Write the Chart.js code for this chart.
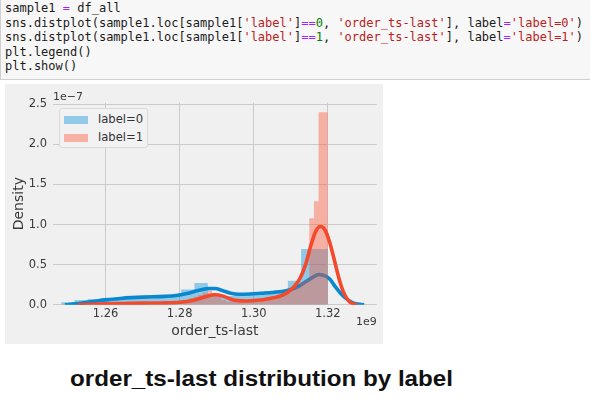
<!DOCTYPE html>
<html>
<head>
<meta charset="utf-8">
<script src="https://cdn.jsdelivr.net/npm/chart.js@4/dist/chart.umd.min.js"></script>
<style>
html,body{margin:0;padding:0;background:#fff;}
#page{position:relative;width:590px;height:399px;overflow:hidden;background:#fff;}
#code{position:absolute;left:0;top:-1px;width:600px;height:81px;background:#f7f7f7;border:1px solid #cfcfcf;box-sizing:border-box;}
#code pre{margin:0;position:absolute;left:4px;top:1px;font-family:"DejaVu Sans Mono",monospace;font-size:12px;line-height:14.6px;color:#1a1a1a;white-space:pre;}
.o{color:#aa22ff}.s{color:#ba2121}.n{color:#008000}
#fig{position:absolute;left:5px;top:84px;width:378px;height:260px;background:#f0f0f0;}
#fig canvas{position:absolute;left:0;top:0;}
#legend{position:absolute;left:54px;top:24px;width:89px;height:40px;box-sizing:border-box;background:#f2f2f2;border:1px solid #dadada;border-radius:3px;font-family:"DejaVu Sans",sans-serif;font-size:11.6px;color:#333;}
#legend .patch{position:absolute;left:4px;width:24px;height:8px;}
#legend .lt{position:absolute;left:38px;line-height:14px;white-space:nowrap;}
#title{position:absolute;left:70px;top:368px;font:bold 22px "Liberation Sans",Arial,sans-serif;line-height:22px;color:#111;white-space:nowrap;transform-origin:0 0;}
</style>
</head>
<body>
<div id="page">
  <div id="code"><pre>sample1 <span class="o">=</span> df_all
sns.distplot(sample1.loc[sample1[<span class="s">'label'</span>]<span class="o">==</span><span class="n">0</span>, <span class="s">'order_ts-last'</span>], label<span class="o">=</span><span class="s">'label=0'</span>)
sns.distplot(sample1.loc[sample1[<span class="s">'label'</span>]<span class="o">==</span><span class="n">1</span>, <span class="s">'order_ts-last'</span>], label<span class="o">=</span><span class="s">'label=1'</span>)
plt.legend()
plt.show()</pre></div>
  <div id="fig">
    <canvas id="c" width="378" height="260"></canvas>
    <div id="legend">
      <span class="patch" style="top:7px;background:rgba(0,143,213,0.4)"></span><span class="lt" style="top:3px">label=0</span>
      <span class="patch" style="top:25px;background:rgba(252,79,48,0.4)"></span><span class="lt" style="top:21px">label=1</span>
    </div>
  </div>
  <div id="title">order_ts-last distribution by label</div>
</div>
<script>
// ---- data (x in units of 1e9, density in units of 1e-7) ----
const xTicks = [1.26, 1.28, 1.30, 1.32];
const yTicks = [0.0, 0.5, 1.0, 1.5, 2.0, 2.5];

// histogram of label=0: bin edges and bar heights
const blueBinEdges = [1.2480, 1.2516, 1.2552, 1.2588, 1.2624, 1.2660, 1.2696, 1.2732, 1.2768, 1.2804,
                      1.2840, 1.2876, 1.2912, 1.2948, 1.2984, 1.3020, 1.3056, 1.3092, 1.3128, 1.3164, 1.3200];
const blueBinHeights = [0.01, 0.03, 0.06, 0.07, 0.08, 0.09, 0.10, 0.09, 0.10, 0.12,
                        0.19, 0.27, 0.13, 0.11, 0.13, 0.14, 0.16, 0.18, 0.30, 0.695];

// histogram of label=1: bin edges and bar heights
const redBinEdges = [1.2575, 1.25875, 1.2600, 1.26125, 1.2625, 1.26375, 1.2650, 1.26625, 1.2675, 1.26875,
                     1.2700, 1.27125, 1.2725, 1.27375, 1.2750, 1.27625, 1.2775, 1.27875, 1.2800, 1.28125,
                     1.2825, 1.28375, 1.2850, 1.28625, 1.2875, 1.28875, 1.2900, 1.29125, 1.2925, 1.29375,
                     1.2950, 1.29625, 1.2975, 1.29875, 1.3000, 1.30125, 1.3025, 1.30375, 1.3050, 1.30625,
                     1.3075, 1.30875, 1.3100, 1.31125, 1.3125, 1.31375, 1.3150, 1.31625, 1.3175, 1.31875, 1.3200];
const redBinHeights = [0.01, 0.00, 0.02, 0.01, 0.01, 0.02, 0.01, 0.02, 0.03, 0.01,
                       0.02, 0.02, 0.01, 0.03, 0.02, 0.02, 0.03, 0.02, 0.03, 0.04,
                       0.05, 0.08, 0.10, 0.12, 0.15, 0.17, 0.14, 0.10, 0.06, 0.04,
                       0.05, 0.04, 0.05, 0.04, 0.06, 0.05, 0.07, 0.08, 0.09, 0.10,
                       0.12, 0.14, 0.17, 0.19, 0.22, 0.28, 0.31, 1.08, 1.29, 2.40];

// KDE curves
const blueKdeX = [1.2490, 1.2520, 1.2550, 1.2580, 1.2610, 1.2640, 1.2670, 1.2700, 1.2730, 1.2760,
                  1.2790, 1.2820, 1.2850, 1.2875, 1.2895, 1.2915, 1.2935, 1.2960, 1.2990, 1.3020,
                  1.3050, 1.3080, 1.3100, 1.3120, 1.3140, 1.3160, 1.3175, 1.3190, 1.3205, 1.3220,
                  1.3235, 1.3250, 1.3265, 1.3280, 1.3298];
const blueKdeY = [0.000, 0.010, 0.030, 0.050, 0.065, 0.078, 0.088, 0.095, 0.100, 0.104,
                  0.114, 0.140, 0.177, 0.200, 0.202, 0.177, 0.147, 0.130, 0.133, 0.143,
                  0.153, 0.168, 0.190, 0.225, 0.285, 0.345, 0.375, 0.365, 0.320, 0.225,
                  0.140, 0.075, 0.030, 0.008, 0.000];

const redKdeX = [1.2525, 1.2560, 1.2600, 1.2650, 1.2700, 1.2750, 1.2800, 1.2840, 1.2870, 1.2895,
                 1.2915, 1.2935, 1.2955, 1.2980, 1.3010, 1.3040, 1.3070, 1.3090, 1.3110, 1.3125,
                 1.3140, 1.3155, 1.3168, 1.3180, 1.3192, 1.3205, 1.3218, 1.3230, 1.3242, 1.3255,
                 1.3268, 1.3280];
const redKdeY = [0.000, 0.005, 0.010, 0.015, 0.020, 0.022, 0.030, 0.060, 0.100, 0.125,
                 0.110, 0.075, 0.052, 0.046, 0.055, 0.075, 0.105, 0.150, 0.230, 0.330,
                 0.500, 0.750, 0.920, 0.975, 0.935, 0.780, 0.550, 0.330, 0.160, 0.055,
                 0.010, 0.000];

// ---- helpers ----
const pts = (xs, ys) => xs.map((x, i) => ({x: x, y: ys[i]}));
// step outline of a histogram: each edge carries the height of the bin that starts there,
// the closing right edge repeats the last bin height
const histPts = (edges, heights) => edges.map((e, i) => ({x: e, y: heights[Math.min(i, heights.length - 1)]}));

const BLUE = '#0a88cf', RED = '#f5492c';
const BLUE_A = 'rgba(0,143,213,0.4)', RED_A = 'rgba(252,79,48,0.4)';
const X_MIN = 1.2458, X_MAX = 1.3332;
const TXT = '#3a3a3a';

Chart.defaults.font.family = '"DejaVu Sans", sans-serif';
Chart.defaults.color = TXT;

const offsetText = {
  id: 'offsetText',
  afterDraw(chart) {
    const {ctx, chartArea} = chart;
    ctx.save();
    ctx.font = '11px "DejaVu Sans", sans-serif';
    ctx.fillStyle = TXT;
    ctx.textBaseline = 'middle';
    ctx.textAlign = 'left';
    ctx.fillText('1e\u22127', chartArea.left, chartArea.top - 6);
    ctx.textAlign = 'right';
    ctx.fillText('1e9', chartArea.right, chartArea.bottom + 17);
    ctx.restore();
  }
};

const histStyle = {type: 'line', stepped: 'after', fill: 'origin', borderWidth: 0, borderColor: 'rgba(0,0,0,0)',
                   pointRadius: 0, tension: 0};
const kdeStyle = {type: 'line', borderWidth: 3.6, pointRadius: 0, cubicInterpolationMode: 'monotone', fill: false};

new Chart(document.getElementById('c'), {
  type: 'line',
  data: {
    datasets: [
      Object.assign({}, kdeStyle, {label: 'kde1', data: pts(redKdeX, redKdeY), borderColor: RED, order: 0}),
      Object.assign({}, histStyle, {label: 'label=1', data: histPts(redBinEdges, redBinHeights), backgroundColor: RED_A, order: 1}),
      Object.assign({}, kdeStyle, {label: 'kde0', data: pts(blueKdeX, blueKdeY), borderColor: BLUE, order: 2}),
      Object.assign({}, histStyle, {label: 'label=0', data: histPts(blueBinEdges, blueBinHeights), backgroundColor: BLUE_A, order: 3})
    ]
  },
  options: {
    responsive: false,
    animation: false,
    devicePixelRatio: 1,
    layout: {padding: {left: 0, top: 18.7, right: 6.3, bottom: 0}},
    plugins: {legend: {display: false}, tooltip: {enabled: false}, filler: {propagate: false}},
    scales: {
      x: {
        type: 'linear', position: 'bottom', min: X_MIN, max: X_MAX, offset: false,
        afterBuildTicks: s => { s.ticks = xTicks.map(v => ({value: v})); },
        afterFit: s => { s.height = 39.3; },
        ticks: {padding: 2.4, font: {size: 11.5}, color: TXT, callback: v => Number(v).toFixed(2), maxRotation: 0, autoSkip: false},
        grid: {color: '#cbcbcb', lineWidth: 1, drawTicks: false},
        border: {display: false},
        title: {display: true, text: 'order_ts-last', font: {size: 14}, color: TXT, padding: {top: 0, bottom: 4.6}}
      },
      y: {
        type: 'linear', position: 'left', min: 0, max: 2.52,
        afterBuildTicks: s => { s.ticks = yTicks.map(v => ({value: v})); },
        afterFit: s => { s.width = 48; },
        ticks: {padding: 6, font: {size: 11.5}, color: TXT, callback: v => Number(v).toFixed(1)},
        grid: {color: '#cbcbcb', lineWidth: 1, drawTicks: false},
        border: {display: false},
        title: {display: true, text: 'Density', font: {size: 14}, color: TXT, padding: {top: 5.6, bottom: 0}}
      }
    }
  },
  plugins: [offsetText]
});

// fit title to the measured width of the original
const t = document.getElementById('title');
const w = t.getBoundingClientRect().width;
t.style.transform = 'scaleX(' + (383 / w) + ')';
</script>
</body>
</html>
